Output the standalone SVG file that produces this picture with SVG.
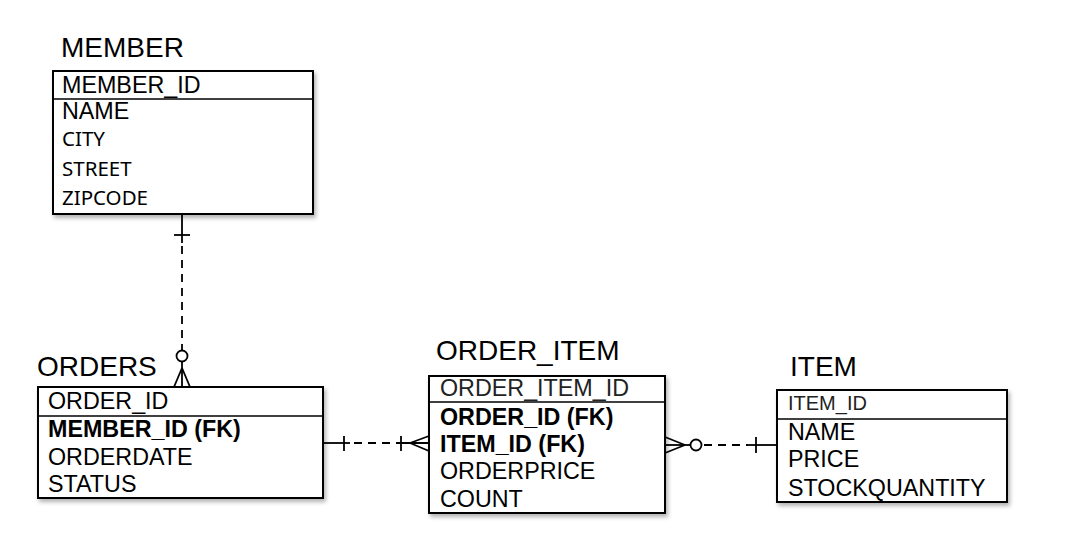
<svg xmlns="http://www.w3.org/2000/svg" width="1080" height="543" viewBox="0 0 1080 543">
<defs>
<filter id="sh" x="-5%" y="-5%" width="115%" height="120%">
<feDropShadow dx="2" dy="3" stdDeviation="2" flood-color="#000" flood-opacity="0.3"/>
</filter>
<style>
.box{fill:#fff;stroke:#000;stroke-width:2;filter:url(#sh)}
.div{stroke:#000;stroke-width:1.6}
.title{font-family:"Liberation Sans",Arial,sans-serif;font-size:28px;fill:#000}
.row{font-family:"Liberation Sans",Arial,sans-serif;font-size:23.3px;fill:#000}
.b{font-weight:bold}
.alt{font-family:"Noto Sans","Open Sans",sans-serif;font-size:20.5px}
.pk{fill:#222}
.sm{font-size:20px}
.ln{stroke:#000;stroke-width:1.8;fill:none}
.dash{stroke-dasharray:8 6}
</style>
</defs>
<rect width="1080" height="543" fill="#fff"/>

<g id="member">
<text class="title" x="61" y="57">MEMBER</text>
<rect class="box" x="53" y="71" width="260" height="143"/>
<line class="div" x1="53" y1="99" x2="313" y2="99"/>
<text class="row" x="62" y="93">MEMBER_ID</text>
<text class="row" x="62" y="119">NAME</text>
<text class="row alt" x="62" y="146">CITY</text>
<text class="row alt" x="62" y="176">STREET</text>
<text class="row alt" x="62" y="205">ZIPCODE</text>
</g>

<g id="orders">
<text class="title" x="37" y="376">ORDERS</text>
<rect class="box" x="38" y="387" width="285" height="111"/>
<line class="div" x1="38" y1="416" x2="323" y2="416"/>
<text class="row" x="48" y="409">ORDER_ID</text>
<text class="row b" x="48" y="437">MEMBER_ID (FK)</text>
<text class="row" x="48" y="465">ORDERDATE</text>
<text class="row" x="48" y="492">STATUS</text>
</g>

<g id="order_item">
<text class="title" x="436" y="360">ORDER_ITEM</text>
<rect class="box" x="429" y="376" width="236" height="137"/>
<line class="div" x1="429" y1="402" x2="665" y2="402"/>
<text class="row pk" x="440" y="396">ORDER_ITEM_ID</text>
<text class="row b" x="440" y="425">ORDER_ID (FK)</text>
<text class="row b" x="440" y="452">ITEM_ID (FK)</text>
<text class="row" x="440" y="479">ORDERPRICE</text>
<text class="row" x="440" y="507">COUNT</text>
</g>

<g id="item">
<text class="title" x="790" y="376">ITEM</text>
<rect class="box" x="777" y="390" width="230" height="112"/>
<line class="div" x1="777" y1="419" x2="1007" y2="419"/>
<text class="row pk sm" x="788" y="410">ITEM_ID</text>
<text class="row" x="788" y="440">NAME</text>
<text class="row" x="788" y="467">PRICE</text>
<text class="row" x="788" y="496">STOCKQUANTITY</text>
</g>

<g id="connectors">
<!-- MEMBER to ORDERS -->
<line class="ln" x1="182" y1="215" x2="182" y2="243"/>
<line class="ln" x1="174" y1="235" x2="190" y2="235"/>
<line class="ln dash" x1="182" y1="246" x2="182" y2="350"/>
<circle class="ln" cx="182" cy="356" r="5.5"/>
<line class="ln" x1="182" y1="361.5" x2="182" y2="387"/>
<line class="ln" x1="182" y1="368" x2="174" y2="387"/>
<line class="ln" x1="182" y1="368" x2="190" y2="387"/>

<!-- ORDERS to ORDER_ITEM -->
<line class="ln" x1="323" y1="443" x2="350" y2="443"/>
<line class="ln" x1="344" y1="436" x2="344" y2="451"/>
<line class="ln dash" x1="354" y1="443" x2="396" y2="443"/>
<line class="ln" x1="396" y1="443" x2="429" y2="443"/>
<line class="ln" x1="401" y1="436" x2="401" y2="451"/>
<line class="ln" x1="410" y1="443" x2="429" y2="436"/>
<line class="ln" x1="410" y1="443" x2="429" y2="451"/>

<!-- ORDER_ITEM to ITEM -->
<line class="ln" x1="665" y1="445" x2="690" y2="445"/>
<line class="ln" x1="665" y1="437" x2="685" y2="445"/>
<line class="ln" x1="665" y1="453" x2="685" y2="445"/>
<circle class="ln" cx="696" cy="445" r="5.5"/>
<line class="ln dash" x1="704" y1="445" x2="748" y2="445"/>
<line class="ln" x1="748" y1="445" x2="777" y2="445"/>
<line class="ln" x1="756" y1="437" x2="756" y2="453"/>
</g>
</svg>
